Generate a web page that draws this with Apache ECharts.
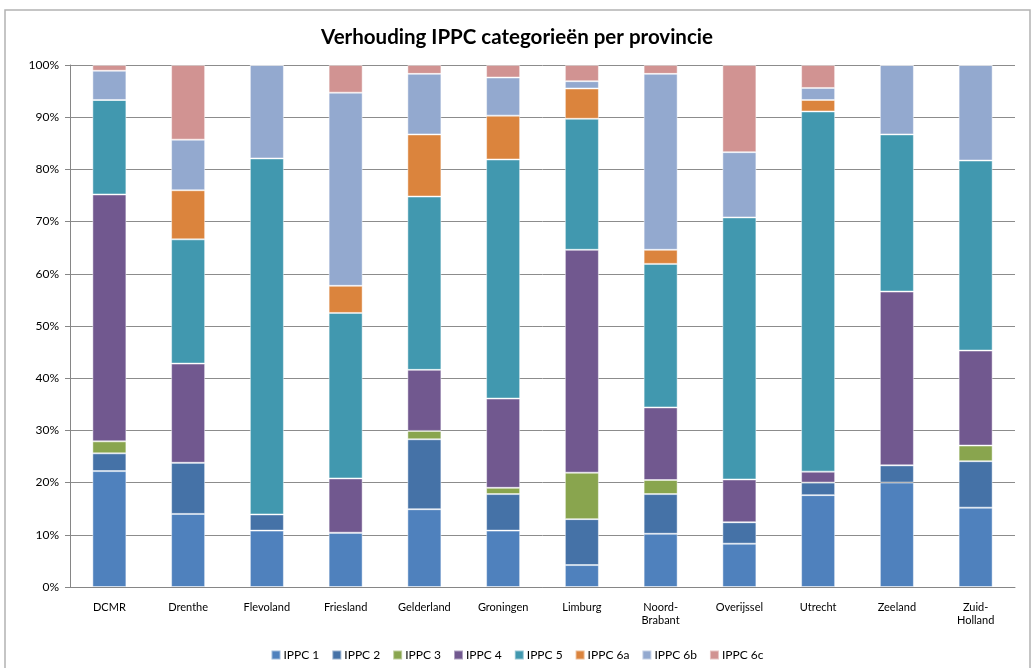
<!DOCTYPE html>
<html>
<head>
<meta charset="utf-8">
<script src="https://cdn.jsdelivr.net/npm/echarts@6/dist/echarts.min.js"></script>
<style>
  html, body { margin: 0; padding: 0; background: #ffffff; }
  #chart { width: 1034px; height: 668px; }
</style>
</head>
<body>
<div id="chart"></div>
<script>
// provincies
const provinces = ['DCMR', 'Drenthe', 'Flevoland', 'Friesland', 'Gelderland', 'Groningen',
  'Limburg', 'Noord-\nBrabant', 'Overijssel', 'Utrecht', 'Zeeland', 'Zuid-\nHolland'];

// aandeel per categorie (%)
const ippc1  = [22.2, 14.0, 10.8, 10.4, 14.9, 10.8, 4.2, 10.2, 8.3, 17.6, 20.0, 15.2];
const ippc2  = [3.4, 9.8, 3.1, 0, 13.4, 7.0, 8.8, 7.6, 4.1, 2.4, 3.3, 8.9];
const ippc3  = [2.3, 0, 0, 0, 1.6, 1.2, 8.9, 2.7, 0, 0, 0, 3.0];
const ippc4  = [47.3, 19.0, 0, 10.4, 11.7, 17.1, 42.7, 13.9, 8.2, 2.1, 33.3, 18.2];
const ippc5  = [18.1, 23.8, 68.2, 31.7, 33.2, 45.8, 25.1, 27.5, 50.2, 69.0, 30.1, 36.4];
const ippc6a = [0, 9.4, 0, 5.2, 11.9, 8.4, 5.8, 2.7, 0, 2.2, 0, 0];
const ippc6b = [5.6, 9.7, 17.9, 37.0, 11.6, 7.3, 1.4, 33.7, 12.5, 2.3, 13.3, 18.3];
const ippc6c = [1.1, 14.3, 0, 5.3, 1.7, 2.4, 3.1, 1.7, 16.7, 4.4, 0, 0];

const seriesNames = ['IPPC 1', 'IPPC 2', 'IPPC 3', 'IPPC 4', 'IPPC 5', 'IPPC 6a', 'IPPC 6b', 'IPPC 6c'];
const seriesData = [ippc1, ippc2, ippc3, ippc4, ippc5, ippc6a, ippc6b, ippc6c];
const colors = ['#4f81bd', '#4572a7', '#89a54e', '#71588f', '#4198af', '#db843d', '#93a9cf', '#d19392'];

const font = 'Lato, "Open Sans", sans-serif';

let chart = echarts.init(document.getElementById('chart'));
chart.setOption({
  animation: false,
  color: colors,
  title: {
    text: 'Verhouding IPPC categorieën per provincie',
    left: 'center',
    top: 22,
    textStyle: { fontFamily: font, fontSize: 20.5, fontWeight: 'bold', color: '#000' }
  },
  legend: {
    bottom: 2,
    left: 'center',
    itemWidth: 9,
    itemHeight: 9,
    itemGap: 12,
    icon: 'rect',
    textStyle: { fontFamily: font, fontSize: 12, color: '#000', padding: [0, 0, 0, -2] },
    data: seriesNames
  },
  grid: { left: 70, right: 19, top: 65, bottom: 81 },
  xAxis: {
    type: 'category',
    data: provinces,
    axisLine: { lineStyle: { color: '#868686' } },
    axisTick: { lineStyle: { color: '#868686' }, length: 5 },
    axisLabel: { fontFamily: font, fontSize: 11, color: '#000', margin: 14, lineHeight: 13, interval: 0 }
  },
  yAxis: {
    type: 'value',
    min: 0,
    max: 100,
    interval: 10,
    axisLine: { show: true, lineStyle: { color: '#868686' } },
    axisTick: { show: true, length: 5, lineStyle: { color: '#868686' } },
    axisLabel: { fontFamily: font, fontSize: 12, color: '#000', formatter: '{value}%', margin: 11 },
    splitLine: { lineStyle: { color: '#8c8c8c', width: 1 } }
  },
  series: seriesNames.map((name, i) => ({
    name: name,
    type: 'bar',
    stack: 'total',
    barWidth: 34,
    data: seriesData[i],
    itemStyle: { borderColor: 'rgba(255,255,255,0.45)', borderWidth: 1 }
  })),
  graphic: [{
    type: 'rect',
    shape: { x: 5, y: 10, width: 1025, height: 670 },
    style: { fill: 'none', stroke: '#b3b3b3', lineWidth: 1.5 },
    silent: true
  }]
});
</script>
</body>
</html>
